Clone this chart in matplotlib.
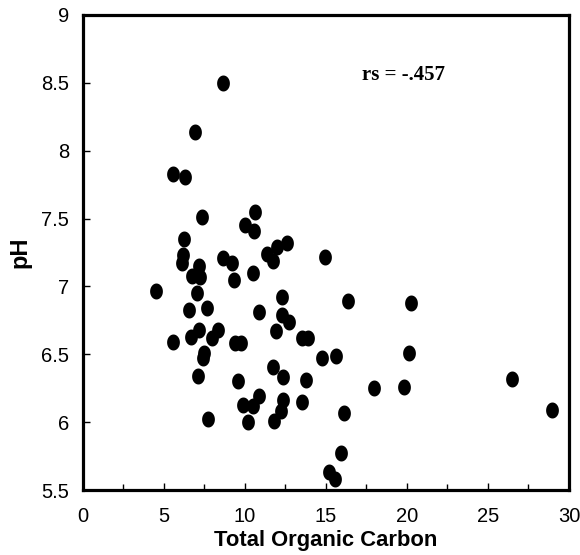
import numpy as np
import matplotlib.pyplot as plt
from matplotlib.path import Path
from matplotlib.ticker import MultipleLocator

# Total organic carbon (x) and pH (y)
toc = [4.5, 5.58, 5.53, 6.32, 6.89, 8.62, 7.36, 10.6, 9.98, 10.55,
       6.25, 12.6, 11.96, 11.34, 11.75, 6.19, 6.09, 8.66, 9.18, 7.16,
       6.71, 7.22, 9.34, 10.47, 7.02, 12.26, 6.54, 7.67, 10.85, 12.26,
       12.74, 11.91, 13.5, 13.9, 7.18, 6.65, 8.35, 7.94, 9.38, 9.75,
       7.47, 7.43, 11.73, 12.35, 13.75, 7.12, 9.57, 10.88, 9.9, 10.47,
       12.35, 13.55, 12.2, 7.69, 10.18, 11.77, 16.38, 20.25, 14.73, 15.6,
       20.15, 17.96, 19.81, 16.13, 15.9, 15.2, 15.56, 26.46, 28.97, 14.94]
ph = [6.97, 6.59, 7.83, 7.81, 8.14, 8.50, 7.51, 7.55, 7.45, 7.41,
      7.35, 7.32, 7.29, 7.24, 7.19, 7.23, 7.17, 7.21, 7.17, 7.15,
      7.08, 7.07, 7.05, 7.10, 6.95, 6.92, 6.83, 6.84, 6.81, 6.79,
      6.74, 6.67, 6.62, 6.62, 6.68, 6.63, 6.68, 6.62, 6.58, 6.58,
      6.51, 6.47, 6.41, 6.33, 6.31, 6.34, 6.30, 6.19, 6.13, 6.12,
      6.16, 6.15, 6.08, 6.02, 6.00, 6.01, 6.89, 6.88, 6.47, 6.49,
      6.51, 6.25, 6.26, 6.07, 5.77, 5.63, 5.58, 6.32, 6.09, 7.22]
rs_text = "rs = -.457"

# slightly tall elliptical dot like the scanned figure
t = np.linspace(0, 2 * np.pi, 60)
ellipse = Path(np.column_stack([0.8 * np.cos(t), np.sin(t)]), closed=True)

plt.rcParams['font.family'] = ['Liberation Sans', 'DejaVu Sans']

fig = plt.figure(figsize=(5.8, 5.55), dpi=100)
ax = fig.add_axes([0.143, 0.117, 0.838, 0.856])

ax.plot(toc, ph, linestyle='none', marker=ellipse, markersize=11.5,
        color='black', markeredgewidth=0)

ax.set_xlim(0, 30)
ax.set_ylim(5.5, 9)
ax.xaxis.set_major_locator(MultipleLocator(5))
ax.xaxis.set_minor_locator(MultipleLocator(2.5))
ax.yaxis.set_major_locator(MultipleLocator(0.5))
ax.yaxis.set_major_formatter(plt.FuncFormatter(lambda v, p: f"{v:g}"))

ax.tick_params(which='both', direction='in', width=1, color='black')
ax.tick_params(which='major', length=5, labelsize=14.5, pad=12)
ax.tick_params(which='minor', length=4)
ax.tick_params(axis='y', pad=10)
for s in ax.spines.values():
    s.set_linewidth(2.3)

ax.set_xlabel("Total Organic Carbon", fontsize=15.8, fontweight='bold', labelpad=3)
ax.set_ylabel("pH", fontsize=17, fontweight='bold', labelpad=7)

ax.text(17.2, 8.56, rs_text, fontsize=15, fontweight='bold',
        family='Liberation Serif', va='center', ha='left')

fig.savefig("out.png", dpi=100)
